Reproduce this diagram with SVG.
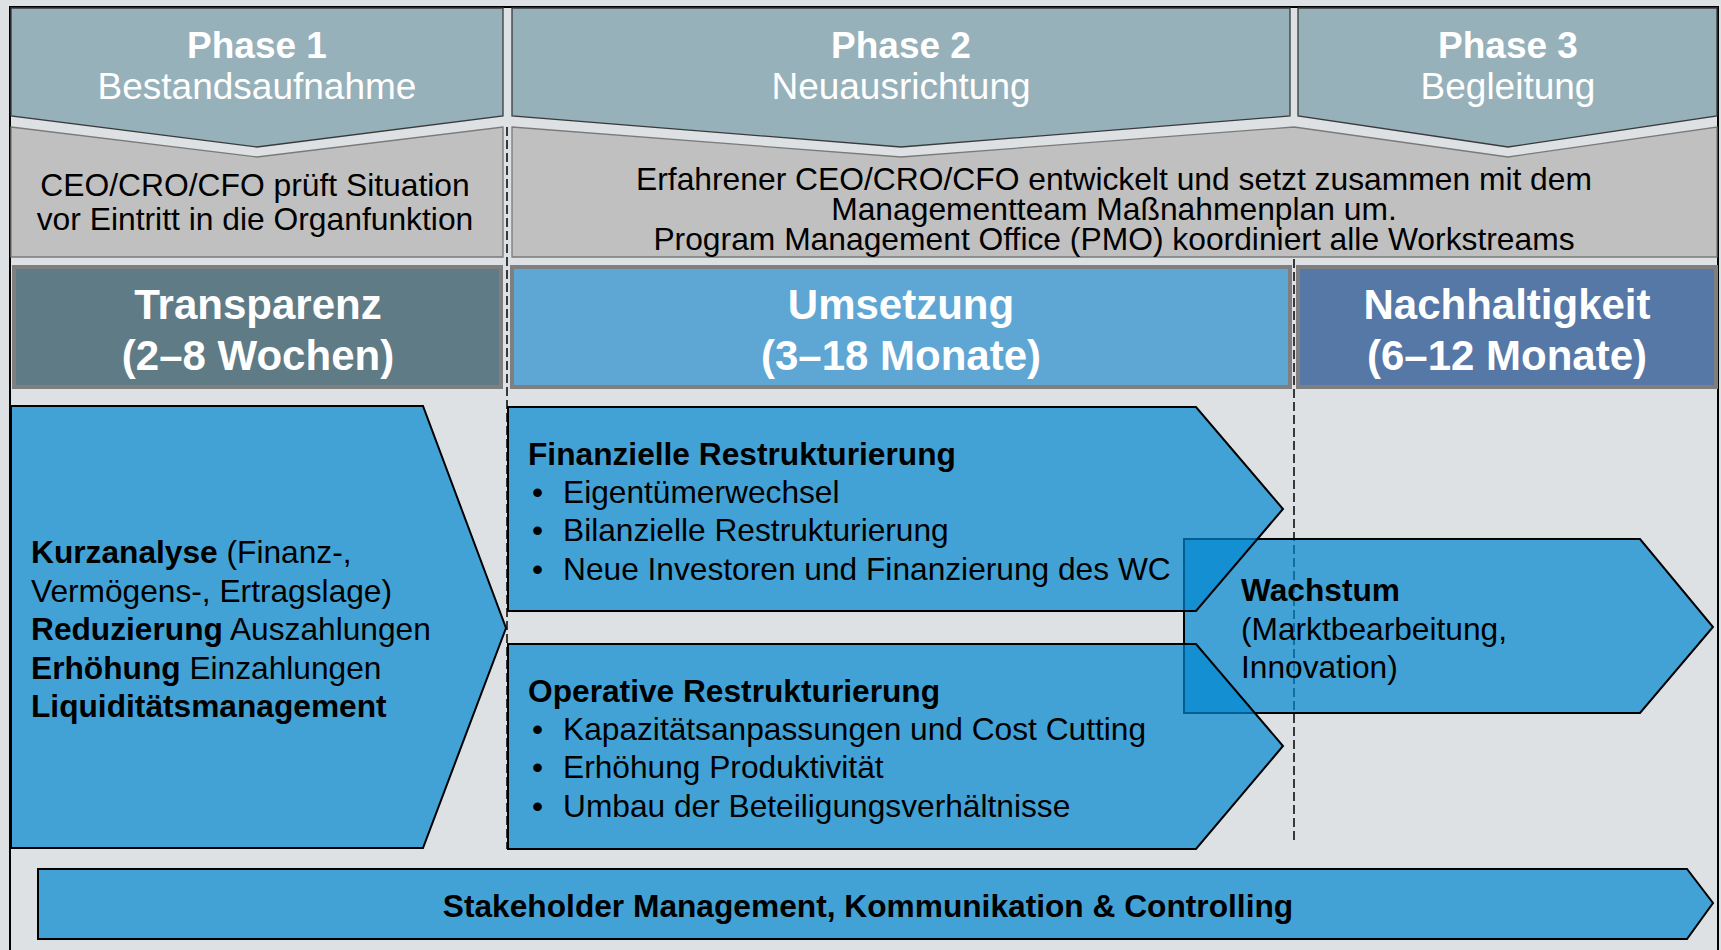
<svg xmlns="http://www.w3.org/2000/svg" width="1721" height="950" viewBox="0 0 1721 950">
  <style>
    text { font-family: "Liberation Sans", Arial, sans-serif; }
    .hdr { fill: #97b1bb; stroke: #3a3a3a; stroke-width: 1.3; }
    .band { fill: #c0c0c0; stroke: #7a7a7a; stroke-width: 1.3; }
    .phase { fill: #ffffff; font-size: 37px; text-anchor: middle; }
    .b { font-weight: bold; }
    .grey-txt { fill: #000000; font-size: 31.8px; text-anchor: middle; }
    .stage { stroke: #7f7f7f; stroke-width: 4; }
    .stage-txt { fill: #ffffff; font-size: 42px; font-weight: bold; text-anchor: middle; }
    .chev { fill: #0087d0; fill-opacity: 0.7; stroke: #000000; stroke-width: 2; stroke-linejoin: miter; }
    .body { fill: #000000; font-size: 31.7px; }
    .dash { stroke: #000000; stroke-width: 1.5; stroke-dasharray: 9 4; fill: none; }
  </style>

  <!-- canvas and frame -->
  <rect x="0" y="0" width="1721" height="950" fill="#dde1e3"/>
  <rect x="10" y="7" width="1708" height="960" fill="#dde1e3" stroke="#000000" stroke-width="2"/>

  <!-- phase headers -->
  <g id="phase1-header">
    <polygon class="hdr" points="11,8 503,8 503,116 257,147 11,116"/>
    <text class="phase b" x="257" y="58">Phase 1</text>
    <text class="phase" x="257" y="99">Bestandsaufnahme</text>
  </g>
  <g id="phase2-header">
    <polygon class="hdr" points="512,8 1290,8 1290,116 901,147 512,116"/>
    <text class="phase b" x="901" y="58">Phase 2</text>
    <text class="phase" x="901" y="99">Neuausrichtung</text>
  </g>
  <g id="phase3-header">
    <polygon class="hdr" points="1298,8 1717,8 1717,116 1508,147 1298,116"/>
    <text class="phase b" x="1508" y="58">Phase 3</text>
    <text class="phase" x="1508" y="99">Begleitung</text>
  </g>

  <!-- role descriptions -->
  <g id="role-phase1">
    <polygon class="band" points="11,127 257,157 503,127 503,257 11,257"/>
    <text class="grey-txt" x="255" y="196">CEO/CRO/CFO prüft Situation</text>
    <text class="grey-txt" x="255" y="230">vor Eintritt in die Organfunktion</text>
  </g>
  <g id="role-phase2-3">
    <polygon class="band" points="512,127 901,157 1294,127 1508,157 1717,127 1717,257 512,257"/>
    <text class="grey-txt" x="1114" y="190">Erfahrener CEO/CRO/CFO entwickelt und setzt zusammen mit dem</text>
    <text class="grey-txt" x="1114" y="220">Managementteam Maßnahmenplan um.</text>
    <text class="grey-txt" x="1114" y="250">Program Management Office (PMO) koordiniert alle Workstreams</text>
  </g>

  <!-- stage boxes -->
  <g id="stage-transparenz">
    <rect class="stage" x="14" y="267" width="487" height="120" fill="#5f7b86"/>
    <text class="stage-txt" x="258" y="319">Transparenz</text>
    <text class="stage-txt" x="258" y="370">(2–8 Wochen)</text>
  </g>
  <g id="stage-umsetzung">
    <rect class="stage" x="512" y="267" width="778" height="120" fill="#5ea6d4"/>
    <text class="stage-txt" x="901" y="319">Umsetzung</text>
    <text class="stage-txt" x="901" y="370">(3–18 Monate)</text>
  </g>
  <g id="stage-nachhaltigkeit">
    <rect class="stage" x="1298" y="267" width="418" height="120" fill="#5578a7"/>
    <text class="stage-txt" x="1507" y="319">Nachhaltigkeit</text>
    <text class="stage-txt" x="1507" y="370">(6–12 Monate)</text>
  </g>

  <!-- phase separators -->
  <g id="connectors">
    <line class="dash" x1="507" y1="127" x2="507" y2="849"/>
    <line class="dash" x1="1294" y1="259" x2="1294" y2="840"/>
  </g>

  <!-- workstream arrows -->
  <g id="kurzanalyse">
    <polygon class="chev" points="11,406 423,406 506,628 423,848 11,848"/>
    <text class="body" x="31" y="563"><tspan class="b">Kurzanalyse</tspan> (Finanz-,</text>
    <text class="body" x="31" y="601.5">Vermögens-, Ertragslage)</text>
    <text class="body" x="31" y="640"><tspan class="b">Reduzierung</tspan> Auszahlungen</text>
    <text class="body" x="31" y="678.5"><tspan class="b">Erhöhung</tspan> Einzahlungen</text>
    <text class="body b" x="31" y="717">Liquiditätsmanagement</text>
  </g>

  <g id="wachstum">
    <polygon class="chev" points="1184,539 1640,539 1713,627 1640,713 1184,713"/>
    <text class="body b" x="1241" y="601">Wachstum</text>
    <text class="body" x="1241" y="639.5">(Marktbearbeitung,</text>
    <text class="body" x="1241" y="678">Innovation)</text>
  </g>

  <g id="finanzielle-restrukturierung">
    <polygon class="chev" points="508,407 1196,407 1283,509 1196,611 508,611"/>
    <text class="body b" x="528" y="465">Finanzielle Restrukturierung</text>
    <text class="body" x="532" y="502.5">•</text>
    <text class="body" x="563" y="502.5">Eigentümerwechsel</text>
    <text class="body" x="532" y="541">•</text>
    <text class="body" x="563" y="541">Bilanzielle Restrukturierung</text>
    <text class="body" x="532" y="579.5">•</text>
    <text class="body" x="563" y="579.5">Neue Investoren und Finanzierung des WC</text>
  </g>

  <g id="operative-restrukturierung">
    <polygon class="chev" points="508,644 1196,644 1283,746 1196,849 508,849"/>
    <text class="body b" x="528" y="702">Operative Restrukturierung</text>
    <text class="body" x="532" y="739.5">•</text>
    <text class="body" x="563" y="739.5">Kapazitätsanpassungen und Cost Cutting</text>
    <text class="body" x="532" y="778">•</text>
    <text class="body" x="563" y="778">Erhöhung Produktivität</text>
    <text class="body" x="532" y="816.5">•</text>
    <text class="body" x="563" y="816.5">Umbau der Beteiligungsverhältnisse</text>
  </g>

  <g id="stakeholder-management">
    <polygon class="chev" points="38,869 1687,869 1713,903 1687,939 38,939"/>
    <text class="body b" x="868" y="917" text-anchor="middle">Stakeholder Management, Kommunikation &amp; Controlling</text>
  </g>
</svg>
